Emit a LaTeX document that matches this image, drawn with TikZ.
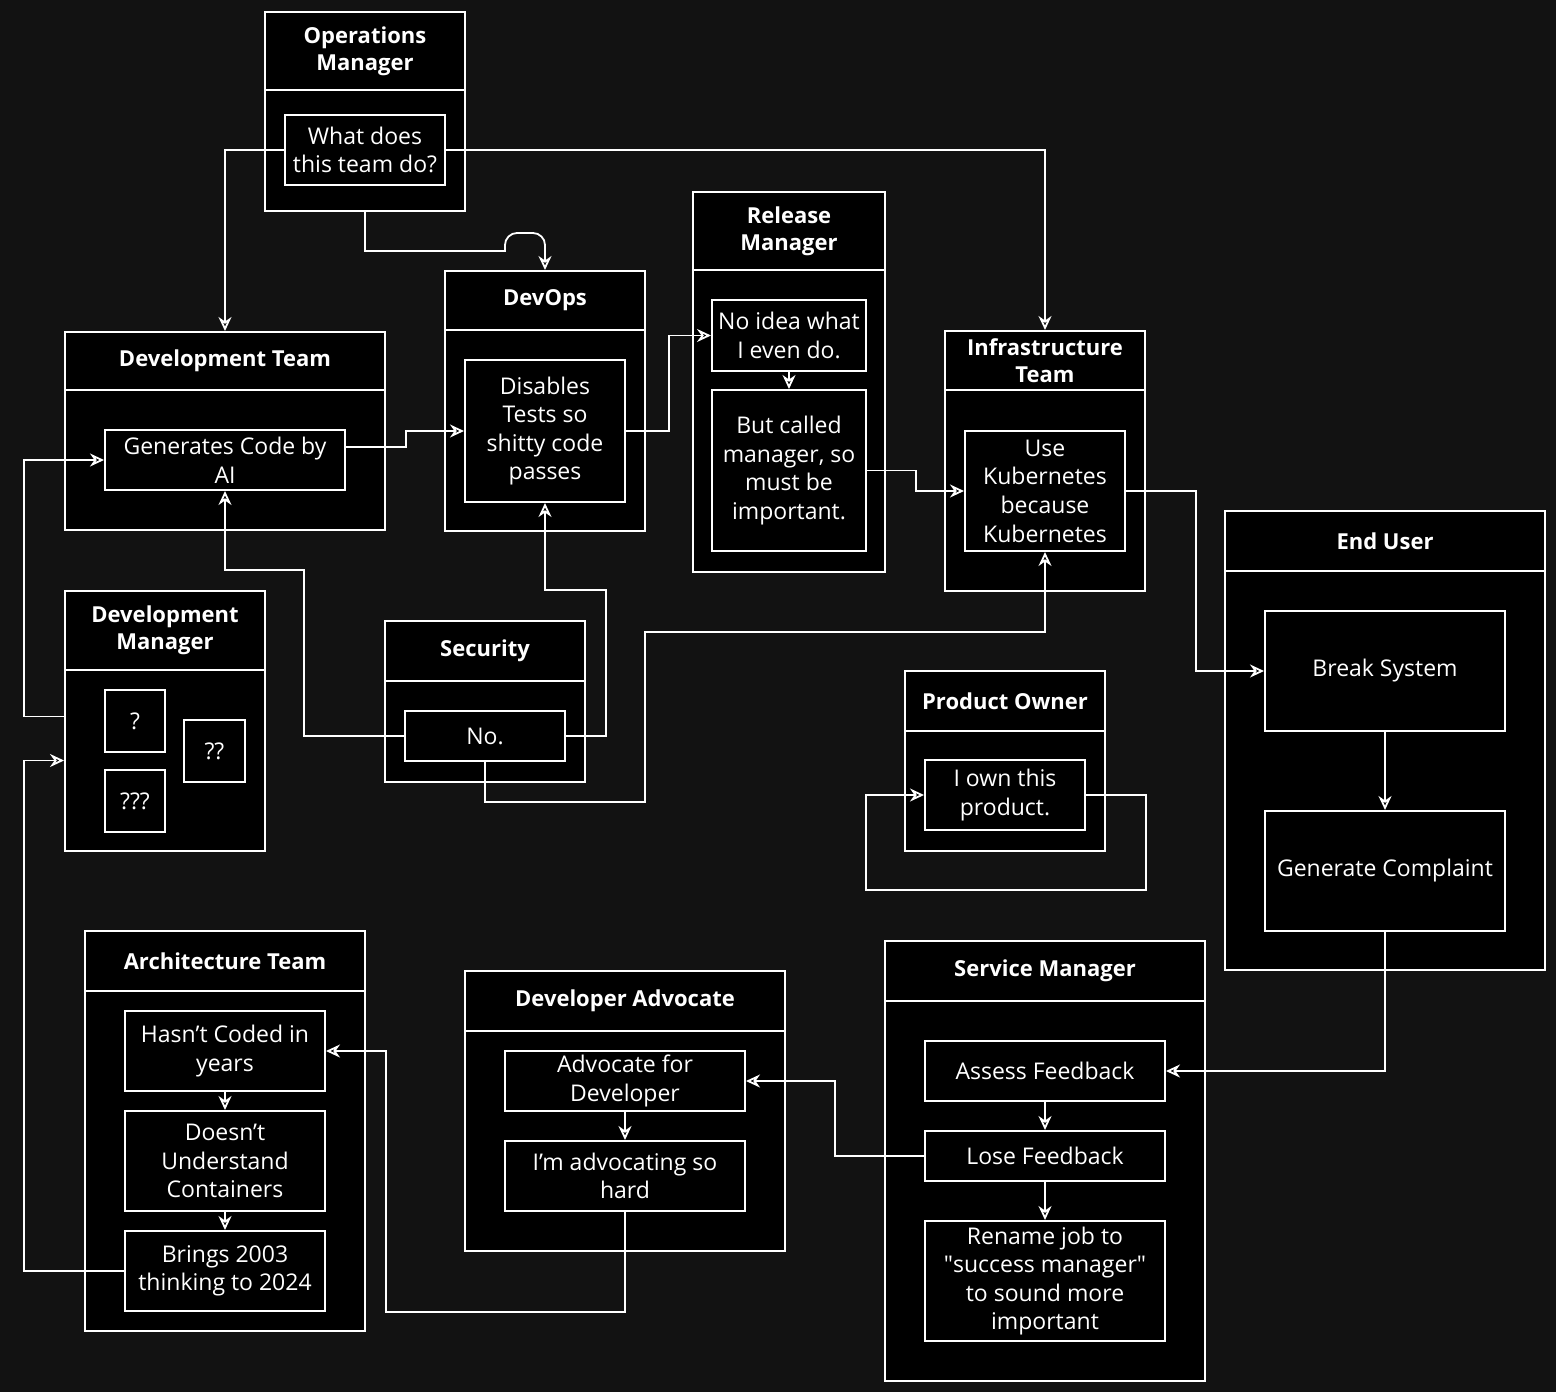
\documentclass[tikz,border=0pt]{standalone}
\usepackage{fontspec}
\setmainfont{Open Sans}
\usepackage{tikz}
\usetikzlibrary{arrows.meta}
\definecolor{canvasbg}{HTML}{121212}

\begin{document}
\begin{tikzpicture}[x=0.5pt, y=-0.5pt,
  box/.style 2 args={draw=white, fill=black, line width=1pt, text=white,
    minimum width=#1*0.5pt, minimum height=#2*0.5pt, inner sep=2pt, align=center,
    font=\fontsize{11.5}{14.3}\selectfont},
  head/.style 2 args={box={#1}{#2}, font=\fontsize{11}{13.5}\selectfont\bfseries},
  link/.style={draw=white, line width=0.9pt, -{Stealth[open, length=7pt, width=6.5pt]}}
]
\fill[canvasbg] (0,0) rectangle (1556,1392);
\useasboundingbox (0,0) rectangle (1556,1392);

% Operations Manager
\node[head={200}{78}] (opshead) at (365,51) {Operations\\Manager};
\node[box={200}{121}] (opsbody) at (365,150.5) {};
\node[box={160}{70}] (whatdo) at (365,150) {What does\\this team do?};

% Development Team
\node[head={320}{58}] (devhead) at (225,361) {Development Team};
\node[box={320}{140}] (devbody) at (225,460) {};
\node[box={240}{60}] (gencode) at (225,460) {Generates Code by\\AI};

% DevOps
\node[head={200}{59}] (devopshead) at (545,300.5) {DevOps};
\node[box={200}{201}] (devopsbody) at (545,430.5) {};
\node[box={160}{142}] (disables) at (545,431) {Disables\\Tests so\\shitty code\\passes};

% Release Manager
\node[head={192}{78}] (relhead) at (789,231) {Release\\Manager};
\node[box={192}{302}] (relbody) at (789,421) {};
\node[box={154}{71}] (noidea) at (789,335.5) {No idea what\\I even do.};
\node[box={154}{161}] (butcalled) at (789,470.5) {But called\\manager, so\\must be\\important.};

% Infrastructure Team
\node[head={200}{59}] (infrahead) at (1045,360.5) {Infrastructure\\Team};
\node[box={200}{201}] (infrabody) at (1045,490.5) {};
\node[box={160}{120}] (kube) at (1045,491) {Use\\Kubernetes\\because\\Kubernetes};

% End User
\node[head={320}{60}] (endhead) at (1385,541) {End User};
\node[box={320}{399}] (endbody) at (1385,770.5) {};
\node[box={240}{120}] (break) at (1385,671) {Break System};
\node[box={240}{120}] (complaint) at (1385,871) {Generate Complaint};

% Development Manager
\node[head={200}{79}] (mgrhead) at (165,630.5) {Development\\Manager};
\node[box={200}{181}] (mgrbody) at (165,760.5) {};
\node[box={60}{62}] (qone) at (135,721) {?};
\node[box={61}{62}] (qtwo) at (214.5,751) {??};
\node[box={60}{62}] (qthree) at (135,801) {???};

% Security
\node[head={200}{60}] (sechead) at (485,651) {Security};
\node[box={200}{101}] (secbody) at (485,731.5) {};
\node[box={160}{50}] (nope) at (485,736) {No.};

% Product Owner
\node[head={200}{60}] (pohead) at (1005,701) {Product Owner};
\node[box={200}{120}] (pobody) at (1005,791) {};
\node[box={160}{70}] (own) at (1005,795) {I own this\\product.};

% Architecture Team
\node[head={280}{60}] (archhead) at (225,961) {Architecture Team};
\node[box={280}{340}] (archbody) at (225,1161) {};
\node[box={200}{80}] (hasnt) at (225,1051) {Hasn’t Coded in\\years};
\node[box={200}{100}] (doesnt) at (225,1161) {Doesn’t\\Understand\\Containers};
\node[box={200}{80}] (brings) at (225,1271) {Brings 2003\\thinking to 2024};

% Developer Advocate
\node[head={320}{60}] (advhead) at (625,1001) {Developer Advocate};
\node[box={320}{220}] (advbody) at (625,1141) {};
\node[box={240}{60}] (advfor) at (625,1081) {Advocate for\\Developer};
\node[box={240}{70}] (advhard) at (625,1176) {I’m advocating so\\hard};

% Service Manager
\node[head={320}{60}] (svchead) at (1045,971) {Service Manager};
\node[box={320}{380}] (svcbody) at (1045,1191) {};
\node[box={240}{60}] (assess) at (1045,1071) {Assess Feedback};
\node[box={240}{50}] (lose) at (1045,1156) {Lose Feedback};
\node[box={240}{120}] (rename) at (1045,1281) {Rename job to\\\textquotedbl success manager\textquotedbl\\to sound more\\important};

% links
\draw[link] (whatdo.west) -| (devhead.north);
\draw[link] (opsbody.south) -- ++(0,39) -- ++(140,0) [rounded corners=6pt] -- ++(0,-18) -- ++(40,0) -- (devopshead.north);
\draw[link] (whatdo.east) -| (infrahead.north);
\draw[link] ([yshift=6.5pt]gencode.east) -- ++(60,0) |- (disables.west);
\draw[link] (disables.east) -- ++(43,0) |- (noidea.west);
\draw[link] (noidea) -- (butcalled);
\draw[link] (butcalled.east) -- ++(49,0) |- (kube.west);
\draw[link] (kube.east) -- ++(70,0) |- (break.west);
\draw[link] (break) -- (complaint);
\draw[link] (complaint.south) |- (assess.east);
\draw[link] (assess) -- (lose);
\draw[link] (lose) -- (rename);
\draw[link] (lose.west) -- ++(-89,0) |- (advfor.east);
\draw[link] (advfor) -- (advhard);
\draw[link] (advhard.south) -- ++(0,100) -| ([xshift=30pt]hasnt.east) -- (hasnt.east);
\draw[link] (hasnt) -- (doesnt);
\draw[link] (doesnt) -- (brings);
\draw[link] (brings.west) -- ++(-100,0) |- (mgrbody.west);
\draw[link] ([yshift=22pt]mgrbody.west) -- ++(-40,0) |- (gencode.west);
\draw[link] (nope.west) -- ++(-100,0) -- ++(0,-166) -| (gencode.south);
\draw[link] (nope.east) -- ++(40,0) -- ++(0,-146) -| (disables.south);
\draw[link] (nope.south) -- ++(0,40) -- ++(160,0) -- ++(0,-170) -| (kube.south);
\draw[link] (own.east) -- ++(60,0) -- ++(0,95) -- ++(-280,0) |- (own.west);
\end{tikzpicture}
\end{document}
